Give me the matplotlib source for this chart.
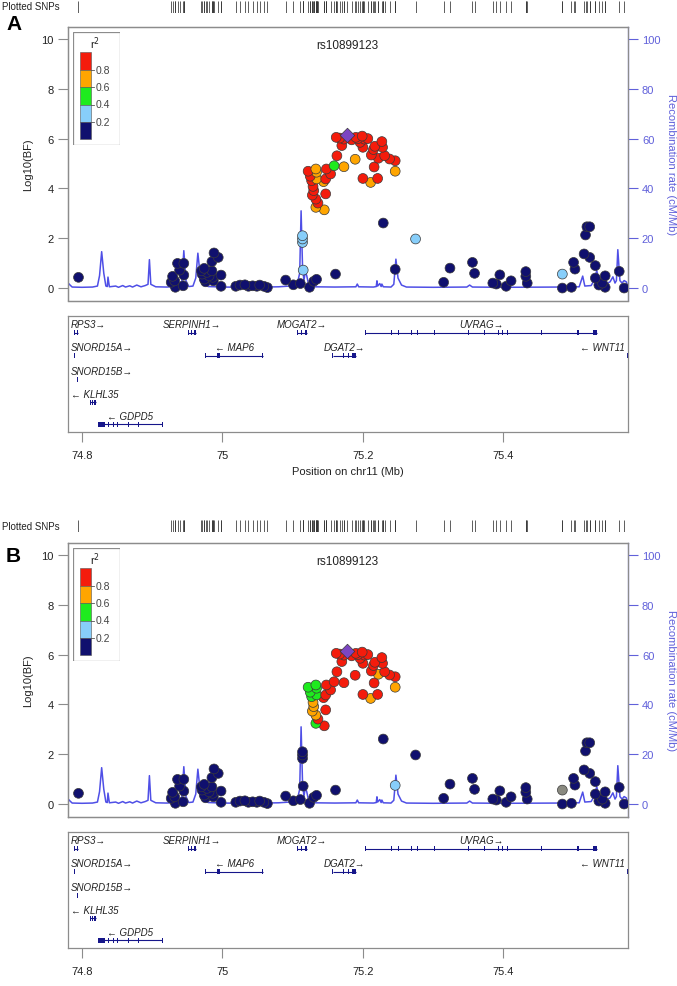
import matplotlib
matplotlib.use('Agg')
import matplotlib.pyplot as plt
from matplotlib.patches import Rectangle
import numpy as np

plt.rcParams['font.family'] = ['Liberation Sans', 'DejaVu Sans']

W, H = 677, 987

# ---- SNP data: position (Mb), log10(BF), r2 in panel A, r2 in panel B (nan = no LD info)
snp_pos = [74.795, 74.927, 74.929, 74.932, 74.933, 74.936, 74.939, 74.944, 74.945, 74.945,
           74.970, 74.971, 74.974, 74.974, 74.976, 74.978, 74.981, 74.985, 74.985, 74.986,
           74.987, 74.988, 74.994, 74.998, 74.998, 75.019, 75.025, 75.032, 75.037, 75.043,
           75.049, 75.053, 75.059, 75.064, 75.090, 75.101, 75.111, 75.124, 75.130, 75.134,
           75.161, 75.229, 75.246, 75.315, 75.324, 75.356, 75.359, 75.385, 75.390, 75.395,
           75.404, 75.411, 75.432, 75.432, 75.434, 75.484, 75.484, 75.497, 75.500, 75.502,
           75.515, 75.523, 75.517, 75.519, 75.523, 75.531, 75.531, 75.536, 75.541, 75.545,
           75.545, 75.565, 75.572,
           75.114, 75.114, 75.114, 75.115, 75.275,
           75.162, 75.167, 75.173, 75.184, 75.190, 75.193, 75.199, 75.202, 75.207, 75.196,
           75.170, 75.200, 75.217, 75.227, 75.228, 75.215, 75.212, 75.222, 75.231, 75.238,
           75.246, 75.189, 75.246, 75.211, 75.216, 75.200, 75.221, 75.159, 75.163, 75.173,
           75.122, 75.133, 75.134, 75.125, 75.134, 75.127, 75.144, 75.147, 75.148, 75.154,
           75.129, 75.130, 75.128, 75.133, 75.136, 75.147, 75.133, 75.145]
snp_bf = [0.43, 0.23, 0.47, 0.29, 0.03, 0.99, 0.72, 0.09, 0.99, 0.52,
          0.69, 0.56, 0.79, 0.36, 0.25, 0.63, 0.49, 0.69, 1.06, 0.43,
          0.29, 1.41, 1.23, 0.52, 0.07, 0.07, 0.12, 0.13, 0.07, 0.09,
          0.07, 0.12, 0.07, 0.02, 0.32, 0.13, 0.18, 0.03, 0.27, 0.35,
          0.56, 2.61, 0.75, 0.23, 0.80, 1.03, 0.59, 0.20, 0.16, 0.53,
          0.07, 0.29, 0.66, 0.47, 0.20, 0.56, 0.00, 0.03, 1.03, 0.76,
          1.37, 1.23, 2.13, 2.46, 2.46, 0.90, 0.40, 0.12, 0.20, 0.49,
          0.03, 0.67, 0.00,
          2.10, 1.97, 1.83, 0.72, 1.97,
          6.05, 6.02, 5.98, 5.95, 6.05, 6.00, 6.10, 5.98, 6.00, 5.85,
          5.72, 5.65, 5.69, 5.88, 5.65, 5.56, 5.34, 5.21, 5.31, 5.18,
          5.11, 5.17, 4.69, 4.24, 4.86, 4.40, 4.40, 4.91, 5.31, 4.87,
          4.69, 4.78, 4.65, 4.49, 4.38, 4.31, 4.27, 4.38, 4.78, 4.58,
          4.08, 3.91, 3.73, 3.57, 3.41, 3.78, 3.24, 3.14]
nan = float('nan')
r2_a = [0.1] * 55 + [0.3] + [0.1] * 17 + \
       [0.3, 0.3, 0.3, 0.3, 0.3] + \
       [0.9] * 21 + [0.7, 0.7, 0.7, 0.9, 0.9, 0.9, 0.5, 0.9, 0.7] + \
       [0.9, 0.7, 0.7, 0.9, 0.7, 0.9, 0.7, 0.9, 0.9, 0.9,
        0.9, 0.9, 0.9, 0.9, 0.9, 0.9, 0.7, 0.7]
r2_b = [0.1] * 42 + [0.3] + [0.1] * 12 + [nan] + [0.1] * 17 + \
       [0.1, 0.1, 0.1, 0.1, 0.1] + \
       [0.9] * 17 + [0.7] + [0.9] * 3 + [0.9, 0.7, 0.7, 0.9, 0.9, 0.9, 0.9, 0.9, 0.9] + \
       [0.5, 0.5, 0.5, 0.5, 0.5, 0.5, 0.9, 0.9, 0.9, 0.9,
        0.7, 0.7, 0.7, 0.7, 0.9, 0.9, 0.5, 0.9]
lead_pos = 75.178
lead_bf = 6.16
lead_name = 'rs10899123'

# ---- recombination rate (cM/Mb)
recomb_pos = [74.779, 74.781, 74.783, 74.786, 74.800, 74.815, 74.822, 74.825, 74.828, 74.831,
              74.834, 74.836, 74.837, 74.839, 74.848, 74.852, 74.858, 74.862, 74.868, 74.872,
              74.878, 74.884, 74.890, 74.894, 74.896, 74.898, 74.905, 74.920, 74.935, 74.942,
              74.945, 74.948, 74.952, 74.958, 74.962, 74.965, 74.968, 74.972, 74.980, 75.000,
              75.040, 75.080, 75.106, 75.110, 75.112, 75.114, 75.116, 75.118, 75.120, 75.123,
              75.130, 75.160, 75.190, 75.192, 75.194, 75.215, 75.219, 75.220, 75.221, 75.224,
              75.226, 75.227, 75.229, 75.240, 75.244, 75.247, 75.250, 75.255, 75.262, 75.300,
              75.348, 75.352, 75.356, 75.400, 75.480, 75.508, 75.513, 75.516, 75.525, 75.529,
              75.533, 75.537, 75.545, 75.552, 75.556, 75.559, 75.561, 75.563, 75.566, 75.569,
              75.572, 75.575, 75.577]
recomb_rate = [0.8, 1.8, 1.2, 0.4, 0.3, 0.4, 0.8, 5.0, 14.6, 6.0,
               0.8, 0.6, 4.4, 0.5, 0.8, 0.3, 1.0, 0.4, 0.9, 0.4,
               1.2, 0.5, 1.0, 1.5, 11.4, 1.5, 0.5, 0.4, 0.6, 2.0,
               15.0, 3.0, 0.6, 0.8, 4.0, 14.0, 6.0, 1.5, 0.6, 0.4,
               0.3, 0.5, 1.0, 6.0, 31.0, 9.0, 3.0, 6.5, 5.0, 1.0,
               0.5, 0.4, 0.5, 1.6, 0.5, 0.4, 0.6, 2.9, 0.8, 1.8,
               0.6, 1.6, 0.5, 0.4, 1.5, 11.6, 4.0, 1.2, 0.4, 0.3,
               0.4, 1.2, 0.4, 0.3, 0.4, 0.5, 4.8, 0.8, 1.0, 3.0,
               7.0, 2.0, 1.5, 2.5, 4.5, 2.0, 3.0, 15.4, 3.0, 2.0,
               3.0, 2.5, 1.0]

# ---- genes
gene_name = ['RPS3', 'SERPINH1', 'MOGAT2', 'UVRAG', 'SNORD15A', 'MAP6', 'DGAT2', 'WNT11',
             'SNORD15B', 'KLHL35', 'GDPD5']
gene_start = [74.788, 74.951, 75.1065, 75.2036, 74.789, 74.9756, 75.157, 75.5765, 74.793, 74.811, 74.823]
gene_end = [74.795, 74.962, 75.120, 75.5335, 74.789, 75.0574, 75.1905, 75.5775, 74.793, 74.820, 74.9145]
gene_strand = ['+', '+', '+', '+', '+', '-', '+', '-', '+', '-', '-']
gene_row = [0, 0, 0, 0, 1, 1, 1, 1, 2, 3, 4]
gene_exons = [
    [(74.788, 74.790), (74.7925, 74.795)],
    [(74.951, 74.953), (74.955, 74.957), (74.9595, 74.962)],
    [(75.1065, 75.108), (75.1115, 75.113), (75.1175, 75.120)],
    [(75.2036, 75.2036), (75.2407, 75.2407), (75.2511, 75.2511), (75.2690, 75.2690),
     (75.2783, 75.2783), (75.3018, 75.3018), (75.3509, 75.3509), (75.3727, 75.3727),
     (75.3929, 75.3929), (75.3983, 75.3983), (75.4065, 75.4065), (75.4545, 75.4545),
     (75.5063, 75.5063), (75.528, 75.5335)],
    [(74.789, 74.789)],
    [(74.9756, 74.9756), (74.992, 74.9963), (75.0574, 75.0574)],
    [(75.1572, 75.1572), (75.1725, 75.1725), (75.1796, 75.1796), (75.1845, 75.1905)],
    [(75.5765, 75.5775)],
    [(74.793, 74.793)],
    [(74.811, 74.813), (74.8145, 74.816), (74.8175, 74.820)],
    [(74.823, 74.833), (74.838, 74.838), (74.845, 74.845), (74.851, 74.851),
     (74.8665, 74.8665), (74.880, 74.880), (74.9145, 74.9145)],
]

xticks = [74.8, 75.0, 75.2, 75.4]
xtick_labels = ['74.8', '75', '75.2', '75.4']
xlim = (74.7795, 75.5775)

r2_bins = [0.2, 0.4, 0.6, 0.8]
r2_colors = ['#10106E', '#87CEFA', '#1EEB1E', '#FFA500', '#F41C0C']
na_color = '#8A8A80'
lead_color = '#7B45C2'
recomb_color = '#4F4FE6'
axis_blue = '#6060DA'
gene_color = '#16168A'
frame_color = '#8C8C8C'
text_color = '#222222'


def r2_color(v):
    if np.isnan(v):
        return na_color
    return r2_colors[int(np.digitize(v, r2_bins))]


fig = plt.figure(figsize=(W / 100, H / 100), dpi=100)


def px_axes(x0, y0, x1, y1):
    return fig.add_axes([x0 / W, 1 - y1 / H, (x1 - x0) / W, (y1 - y0) / H])


def style_frame(ax):
    for s in ax.spines.values():
        s.set_color(frame_color)
        s.set_linewidth(0.9)


def draw_panel(off, r2, letter, letter_y, strip_y, with_xlabel):
    # plotted SNP strip
    sx = px_axes(67.6, strip_y - 6, 628, strip_y + 6)
    sx.vlines(snp_pos + [lead_pos], 0, 1, color='#333333', lw=0.55)
    sx.set_xlim(xlim)
    sx.set_ylim(0, 1)
    sx.axis('off')
    fig.text(2 / W, 1 - strip_y / H, 'Plotted SNPs', fontsize=7, color=text_color,
             ha='left', va='center')
    fig.text(6 / W, 1 - letter_y / H, letter, fontsize=15, fontweight='bold',
             ha='left', va='center', color='black')

    # association plot
    ax = px_axes(67.6, 27.5 + off, 628, 301.5 + off)
    ax.set_xlim(xlim)
    ax.set_ylim(-0.5, 10.5)
    ax.set_yticks([0, 2, 4, 6, 8, 10])
    ax.set_xticks([])
    ax.tick_params(axis='y', direction='out', length=7, width=0.8, color=frame_color,
                   labelsize=8, labelcolor=text_color, pad=3)
    ax.set_ylabel('Log10(BF)', fontsize=8, color=text_color, labelpad=6)
    style_frame(ax)

    rx = ax.twinx()
    rx.plot(recomb_pos, recomb_rate, color=recomb_color, lw=1.1, zorder=1)
    rx.set_ylim(-5, 105)
    rx.set_yticks([0, 20, 40, 60, 80, 100])
    rx.tick_params(axis='y', direction='out', length=7, width=0.8, color=axis_blue,
                   labelsize=8, labelcolor=axis_blue, pad=3)
    rx.set_ylabel('Recombination rate (cM/Mb)', fontsize=8, color=axis_blue,
                  rotation=270, labelpad=11)
    style_frame(rx)
    rx.spines['right'].set_color(axis_blue)

    cols = [r2_color(v) for v in r2]
    order = np.argsort(snp_bf, kind='stable')
    ax.set_zorder(rx.get_zorder() + 1)
    ax.patch.set_visible(False)
    ax.scatter(np.array(snp_pos)[order], np.array(snp_bf)[order], s=50,
               c=[cols[i] for i in order], edgecolors='#3A3A3A', linewidths=0.5, zorder=3)
    ax.scatter([lead_pos], [lead_bf], s=55, marker='D', c=lead_color,
               edgecolors='#3A3A3A', linewidths=0.5, zorder=4)
    ax.text(0.5, 1 - 18.5 / 274, lead_name, transform=ax.transAxes, fontsize=8.5,
            ha='center', va='center', color=text_color)

    # r2 legend
    lg = px_axes(73.3, 33.3 + off, 120, 146 + off)
    lg.set_xlim(0, 46.7)
    lg.set_ylim(112.7, 0)
    lg.axis('off')
    lg.add_patch(Rectangle((0, 0), 46.7, 112.7, fill=False, ec=frame_color, lw=0.9))
    lg.text(21.7, 10, 'r$^2$', fontsize=8, ha='center', va='center', color=text_color)
    seg = 87.0 / len(r2_colors)
    for i, c in enumerate(r2_colors[::-1]):
        lg.add_patch(Rectangle((6.7, 20 + i * seg), 11, seg, fc=c, ec='#555555', lw=0.4))
    for i, b in enumerate(r2_bins[::-1]):
        yb = 20 + (i + 1) * seg
        lg.plot([17.7, 21], [yb, yb], color='#555555', lw=0.6)
        lg.text(22.5, yb, '%.1f' % b, fontsize=7.5, ha='left', va='center', color='#444444')

    # gene track
    gx = px_axes(67.6, 317.3 + off, 628, 433.3 + off)
    gx.set_xlim(xlim)
    gx.set_ylim(116, 0)
    gx.set_yticks([])
    gx.set_xticks(xticks)
    gx.set_xticklabels(xtick_labels)
    gx.tick_params(axis='x', direction='out', length=7, width=0.8, color=frame_color,
                   labelsize=8, labelcolor=text_color, pad=6)
    style_frame(gx)
    if with_xlabel:
        gx.set_xlabel('Position on chr11 (Mb)', fontsize=8, color=text_color, labelpad=4)

    row_y = [16.5, 39.5, 62.8, 86.1, 108.0]
    minw = 0.0016
    labels = []
    for name, s, e, st, row, ex in zip(gene_name, gene_start, gene_end, gene_strand,
                                       gene_row, gene_exons):
        y = row_y[row]
        gx.plot([s, e], [y, y], color=gene_color, lw=0.8, solid_capstyle='butt')
        for a, b in ex:
            w = max(b - a, minw)
            gx.add_patch(Rectangle((a - (w - (b - a)) / 2, y - 2.4), w, 4.8,
                                   fc=gene_color, ec='none'))
        txt = name + '\u2192' if st == '+' else '\u2190 ' + name
        t = gx.text((s + e) / 2, y - 8.5, txt, fontsize=7, style='italic',
                    ha='center', va='center', color=text_color)
        labels.append(t)

    # keep gene labels inside the track
    fig.canvas.draw()
    rend = fig.canvas.get_renderer()
    abox = gx.get_window_extent(rend)
    for t in labels:
        bb = t.get_window_extent(rend)
        if bb.x0 < abox.x0 + 2:
            t.set_ha('left')
            t.set_x(gx.transData.inverted().transform((abox.x0 + 3, 0))[0])
        elif bb.x1 > abox.x1 - 2:
            t.set_ha('right')
            t.set_x(gx.transData.inverted().transform((abox.x1 - 3, 0))[0])


draw_panel(0, r2_a, 'A', 24, 7.5, True)
draw_panel(516, r2_b, 'B', 556, 527, False)

fig.savefig('out.png', dpi=100)
